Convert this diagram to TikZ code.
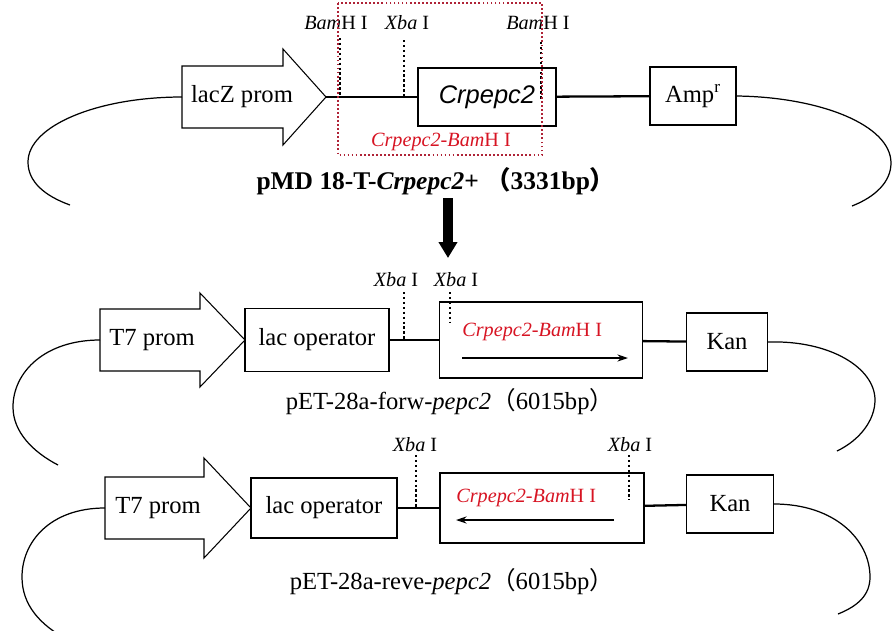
\documentclass[tikz,border=0pt]{standalone}
\usepackage{fontspec}
\setmainfont{Liberation Serif}
\newfontfamily\arialfont{Liberation Sans}
\newfontfamily\cjkfont{Noto Sans CJK SC}
\usetikzlibrary{arrows.meta}
\definecolor{sitered}{RGB}{215,20,35}
\definecolor{boxred}{RGB}{175,35,55}
\newcommand{\bamsite}{\textit{Bam}H I}
\newcommand{\xbasite}{\textit{Xba} I}
\newcommand{\insname}{\textit{Crpepc2-Bam}H I}
\tikzset{
  part/.style={draw, line width=0.6pt, inner sep=0pt, minimum height=1.16cm, font=\fontsize{14}{16}\selectfont},
  promline/.style={draw, line width=0.6pt, line join=miter},
  promtext/.style={font=\fontsize{14}{16}\selectfont, inner sep=0pt},
  dna/.style={line width=1.3pt},
  backloop/.style={line width=0.7pt},
  site/.style={line width=1.3pt, dash pattern=on 1.4pt off 1.4pt},
  enzyme/.style={font=\fontsize{11.5}{13}\selectfont, inner sep=0pt},
  insertlabel/.style={text=sitered, font=\fontsize{11.5}{13}\selectfont, inner sep=0pt},
  plasmidname/.style={font=\fontsize{14}{16}\selectfont, inner sep=0pt}
}
\begin{document}
\begin{tikzpicture}[x=0.02cm, y=-0.02cm]
\useasboundingbox (0,0) rectangle (894,630);
\clip (0,0) rectangle (894,630);

% pMD 18-T
\coordinate (lacztail) at (182,97);
\coordinate (lacztip) at (326,97);
\draw[promline] (182,66) -- (283,66) -- (283,49) -- (lacztip) -- (283,145) -- (283,128) -- (182,128) -- cycle;
\node[promtext] (lacztext) at (242,97) {lacZ prom};
\node[part, minimum width=2.76cm] (crp) at (487,97) {\fontsize{14.5}{16}\arialfont\itshape Crpepc2};
\node[part, minimum width=1.72cm] (amp) at (693,96) {Amp\textsuperscript{r}};
\draw[dna] (lacztip) -- (crp);
\draw[dna] (crp) -- (amp);

\node[enzyme] (bam1) at (336,23) {\bamsite};
\node[enzyme] (xba1) at (407,23) {\xbasite};
\node[enzyme] (bam2) at (538,23) {\bamsite};
\coordinate (bam1t) at (340,38);
\coordinate (bam1b) at (340,97);
\coordinate (xba1t) at (404,40);
\coordinate (xba1b) at (404,97);
\coordinate (bam2t) at (541,42);
\coordinate (bam2b) at (541,100);
\draw[site] (bam1t) -- (bam1b);
\draw[site] (xba1t) -- (xba1b);
\draw[site] (bam2t) -- (bam2b);

\draw[boxred, line width=0.8pt, dash pattern=on 1pt off 1.3pt] (338,3) rectangle (542,155);
\node[insertlabel] (crpbam) at (441,142) {\insname};
\node[plasmidname, font=\fontsize{14.5}{16}\selectfont\bfseries] (pmd) at (436,181) {pMD 18-T-\textit{Crpepc2}+ {\cjkfont （}3331bp{\cjkfont ）}};

\coordinate (l1a) at (28,162);
\coordinate (l1b) at (70,205);
\coordinate (r1a) at (891,163);
\coordinate (r1b) at (852,206);
\draw[backloop] (lacztail) .. controls (97,97) and (28,126) .. (l1a) .. controls (28,182) and (45,196) .. (l1b);
\draw[backloop] (amp.east) .. controls (820,97) and (891,125) .. (r1a) .. controls (891,182) and (875,197) .. (r1b);

\coordinate (down1) at (448,198);
\coordinate (down2) at (448,258);
\draw[line width=0.2cm, -{Triangle[width=0.36cm,length=0.32cm]}] (down1) -- (down2);

% pET-28a forward
\coordinate (t7atail) at (100,340);
\coordinate (t7atip) at (245,340);
\draw[promline] (100,309) -- (200,309) -- (200,293) -- (t7atip) -- (200,387) -- (200,371) -- (100,371) -- cycle;
\node[promtext] (t7atext) at (152,340) {T7 prom};
\node[part, minimum width=2.88cm, minimum height=1.26cm] (lacopa) at (317,340) {lac operator};
\node[part, minimum width=4.06cm, minimum height=1.52cm] (insa) at (541,340) {};
\node[part, minimum width=1.62cm] (kana) at (727,342) {Kan};
\draw[dna] (lacopa) -- (insa);
\draw[dna] (insa) -- (kana);
\node[insertlabel, anchor=west] (crpa) at (462,332) {\insname};
\coordinate (fwa) at (462,358);
\coordinate (fwb) at (628,358);
\draw[dna, -{Stealth[length=6pt,width=4pt]}] (fwa) -- (fwb);

\node[enzyme] (xba2) at (396,280) {\xbasite};
\node[enzyme] (xba3) at (456,280) {\xbasite};
\coordinate (xba2t) at (404,292);
\coordinate (xba2b) at (404,340);
\coordinate (xba3t) at (450,292);
\coordinate (xba3b) at (450,323);
\draw[site] (xba2t) -- (xba2b);
\draw[site] (xba3t) -- (xba3b);

\node[plasmidname] (forw) at (450,402) {pET-28a-forw-\textit{pepc2}{\cjkfont （}6015bp{\cjkfont ）}};

\coordinate (l2a) at (13,407);
\coordinate (l2b) at (58,465);
\coordinate (r2a) at (875,400);
\coordinate (r2b) at (837,451);
\draw[backloop] (t7atail) .. controls (45,340) and (13,372) .. (l2a) .. controls (13,432) and (33,452) .. (l2b);
\draw[backloop] (kana.east) .. controls (830,340) and (875,368) .. (r2a) .. controls (875,420) and (860,440) .. (r2b);

% pET-28a reverse
\coordinate (t7btail) at (105,508);
\coordinate (t7btip) at (251,508);
\draw[promline] (105,477) -- (204,477) -- (204,458) -- (t7btip) -- (204,558) -- (204,539) -- (105,539) -- cycle;
\node[promtext] (t7btext) at (158,508) {T7 prom};
\node[part, minimum width=2.92cm, minimum height=1.2cm] (lacopb) at (324,508) {lac operator};
\node[part, minimum width=4.08cm, minimum height=1.4cm] (insb) at (542,508) {};
\node[part, minimum width=1.74cm] (kanb) at (730,504) {Kan};
\draw[dna] (lacopb) -- (insb);
\draw[dna] (insb) -- (kanb);
\node[insertlabel, anchor=west] (crpb) at (456,498) {\insname};
\coordinate (rva) at (614,520);
\coordinate (rvb) at (456,520);
\draw[dna, -{Stealth[length=6pt,width=4pt]}] (rva) -- (rvb);

\node[enzyme] (xba4) at (415,445) {\xbasite};
\node[enzyme] (xba5) at (630,445) {\xbasite};
\coordinate (xba4t) at (416,455);
\coordinate (xba4b) at (416,508);
\coordinate (xba5t) at (629,455);
\coordinate (xba5b) at (629,500);
\draw[site] (xba4t) -- (xba4b);
\draw[site] (xba5t) -- (xba5b);

\node[plasmidname] (reve) at (452,582) {pET-28a-reve-\textit{pepc2}{\cjkfont （}6015bp{\cjkfont ）}};

\coordinate (l3a) at (22,577);
\coordinate (l3b) at (68,640);
\coordinate (r3a) at (870,577);
\coordinate (r3b) at (838,614);
\draw[backloop] (t7btail) .. controls (50,508) and (22,542) .. (l3a) .. controls (22,605) and (40,625) .. (l3b);
\draw[backloop] (kanb.east) .. controls (835,504) and (870,540) .. (r3a) .. controls (870,595) and (858,606) .. (r3b);
\end{tikzpicture}
\end{document}
